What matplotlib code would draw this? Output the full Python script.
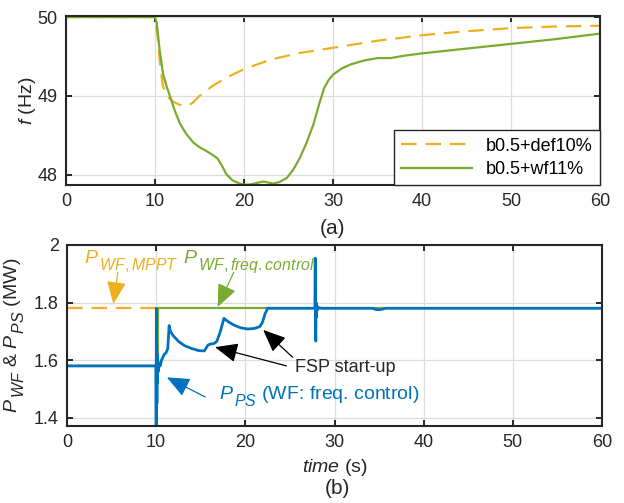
import numpy as np
import matplotlib
matplotlib.use('Agg')
import matplotlib.pyplot as plt
from matplotlib import _mathtext

# MATLAB draws subscripts bigger and lower than mathtext does
_mathtext.SHRINK_FACTOR = 0.82
_mathtext.FontConstantsBase.sub1 = 0.75

plt.rcParams['font.family'] = ['Liberation Sans', 'DejaVu Sans']
plt.rcParams['mathtext.fontset'] = 'custom'
plt.rcParams['mathtext.rm'] = 'Liberation Sans'
plt.rcParams['mathtext.it'] = 'Liberation Sans:italic'

ORANGE = '#EDB120'
GREEN = '#77AC30'
BLUE = '#0072BD'

# (a) frequency, case b0.5+def10%
t_def = [0, 10.0, 10.3, 10.6, 10.9, 11.3, 12.0, 12.7, 13.5, 14.2, 15.0, 16.5, 18.0,
         20.0, 23.0, 26.0, 30.0, 35.0, 40.0, 45.0, 50.0, 55.0, 60.0]
f_def = [50, 50, 49.75, 49.35, 49.12, 49.0, 48.93, 48.89, 48.87, 48.91, 49.0, 49.13, 49.23,
         49.34, 49.46, 49.54, 49.61, 49.70, 49.77, 49.82, 49.86, 49.88, 49.89]

# (a) frequency, case b0.5+wf11%
t_wf = [0, 10.0, 10.2, 10.5, 10.9, 11.3, 11.7, 12.2, 12.8, 13.5, 14.3, 15.0, 15.8, 16.5,
        17.0, 17.5, 18.0, 18.7, 19.5, 20.1, 20.8, 21.5, 22.2, 22.8, 23.3, 24.0, 24.8,
        25.5, 26.3, 27.0, 27.8, 28.5, 29.0, 29.5, 30.0, 31.0, 32.0, 33.5, 35.0, 36.5,
        38.0, 40.0, 45.0, 50.0, 55.0, 60.0]
f_wf = [50, 50, 49.92, 49.6, 49.28, 49.12, 48.99, 48.82, 48.65, 48.52, 48.41, 48.35, 48.30,
        48.25, 48.21, 48.12, 48.01, 47.93, 47.89, 47.875, 47.88, 47.90, 47.915, 47.90,
        47.89, 47.91, 47.96, 48.06, 48.22, 48.40, 48.64, 48.92, 49.10, 49.20, 49.27,
        49.35, 49.40, 49.45, 49.48, 49.48, 49.51, 49.54, 49.60, 49.66, 49.72, 49.79]

# (b) powers
t_mppt = [0, 10.2]
p_mppt = [1.78, 1.78]
t_ctrl = [0, 10.2, 10.2, 60]
p_ctrl = [1.58, 1.58, 1.78, 1.78]
t_ps = [0, 9.97, 10.0, 10.02, 10.04, 10.06, 10.08, 10.10, 10.13, 10.17, 10.22, 10.3,
        10.45, 10.6, 10.75, 10.9, 11.1, 11.3, 11.45, 11.6, 11.9, 12.5, 13.2, 14.0,
        14.8, 15.4, 15.8, 16.0, 16.5, 16.8, 17.2, 17.6, 18.0, 18.7, 19.5, 20.3, 21.0,
        21.6, 21.9, 22.2, 22.5, 23.0, 27.8, 27.84, 27.87, 27.9, 27.93, 27.97, 28.02,
        28.1, 28.25, 28.5, 34.3, 34.6, 35.0, 35.4, 35.7, 60]
p_ps = [1.58, 1.58, 1.37, 1.78, 1.42, 1.65, 1.45, 1.62, 1.52, 1.60, 1.56, 1.59,
        1.58, 1.60, 1.61, 1.62, 1.625, 1.64, 1.72, 1.70, 1.685, 1.665, 1.65, 1.64,
        1.633, 1.632, 1.652, 1.655, 1.658, 1.665, 1.70, 1.745, 1.735, 1.722, 1.712, 1.708, 1.71,
        1.716, 1.73, 1.76, 1.78, 1.78, 1.78, 1.954, 1.70, 1.666, 1.80, 1.75, 1.79,
        1.775, 1.782, 1.78, 1.78, 1.776, 1.775, 1.777, 1.78, 1.78]

xticks = [0, 10, 20, 30, 40, 50, 60]

fig = plt.figure(figsize=(6.24, 5.03), dpi=100)
ax1 = fig.add_axes([0.1058, 0.632, 0.8558, 0.336])
ax2 = fig.add_axes([0.1074, 0.153, 0.8574, 0.360])

for ax in (ax1, ax2):
    ax.grid(True, color='#dcdcdc', linewidth=0.9)
    ax.set_axisbelow(True)
    ax.tick_params(direction='in', top=True, right=True, length=4, width=1.4,
                   labelsize=13, colors='#262626', pad=6)
    for s in ax.spines.values():
        s.set_linewidth(1.5)
        s.set_color('#262626')
    ax.set_xlim(0, 60)
    ax.set_xticks(xticks)

ax1.plot(t_def, f_def, color=ORANGE, lw=1.6, dashes=(7, 4), label='b0.5+def10%')
ax1.plot(t_wf, f_wf, color=GREEN, lw=1.6, label='b0.5+wf11%')
ax1.set_ylim(47.87, 50.012)
ax1.set_yticks([48, 49, 50])
ax1.set_ylabel('$f$ (Hz)', fontsize=14, color='#262626')
ax1.yaxis.set_label_coords(-0.052, 0.5)
leg = ax1.legend(loc='lower right', fontsize=13, handlelength=3.9, fancybox=False,
                 framealpha=1, edgecolor='#262626', borderaxespad=0, borderpad=0.4,
                 labelspacing=0.35)
leg.get_frame().set_linewidth(1.0)

ax2.plot(t_mppt, p_mppt, color=ORANGE, lw=1.6, dashes=(7, 4))
ax2.plot(t_ctrl, p_ctrl, color=GREEN, lw=1.6)
ax2.plot(t_ps, p_ps, color=BLUE, lw=2.0)
ax2.set_ylim(1.371, 2.0)
ax2.set_yticks([1.4, 1.6, 1.8, 2.0])
ax2.set_yticklabels(['1.4', '1.6', '1.8', '2'])
ax2.set_ylabel(r'$P_{\,WF}$ & $P_{\,PS}$ (MW)', fontsize=14, color='#262626')
ax2.yaxis.set_label_coords(-0.074, 0.5)
ax2.set_xlabel('$time$ (s)', fontsize=14, color='#262626', labelpad=4)

arrow = dict(arrowstyle='-|>,head_length=1.4,head_width=0.6', lw=0.9, shrinkA=0, shrinkB=0)

ax2.text(1.9, 1.94, r'$P_{\,WF,MPPT}$', color=ORANGE, fontsize=14, va='center', ha='left')
ax2.annotate('', xy=(5.2, 1.795), xytext=(5.7, 1.905),
             arrowprops=dict(arrow, color=ORANGE))
ax2.text(13.0, 1.94, r'$P_{\,WF,freq.control}$', color=GREEN, fontsize=14, va='center', ha='left')
ax2.annotate('', xy=(16.9, 1.785), xytext=(18.7, 1.905),
             arrowprops=dict(arrow, color=GREEN))

ax2.text(25.6, 1.575, 'FSP start-up', color='#262626', fontsize=13, va='center', ha='left')
ax2.annotate('', xy=(16.6, 1.645), xytext=(24.6, 1.58),
             arrowprops=dict(arrow, color='black'))
ax2.annotate('', xy=(22.0, 1.705), xytext=(25.3, 1.61),
             arrowprops=dict(arrow, color='black'))

ax2.text(17.0, 1.472, r'$P_{\,PS}$ (WF: freq. control)', color=BLUE, fontsize=14,
         va='center', ha='left')
ax2.annotate('', xy=(11.2, 1.54), xytext=(15.5, 1.472),
             arrowprops=dict(arrow, color=BLUE))

fig.text(0.533, 1 - 229 / 503, '(a)', fontsize=15, color='#262626', ha='center', va='center')
fig.text(0.540, 1 - 488 / 503, '(b)', fontsize=15, color='#262626', ha='center', va='center')

fig.savefig('out.png', dpi=100)
